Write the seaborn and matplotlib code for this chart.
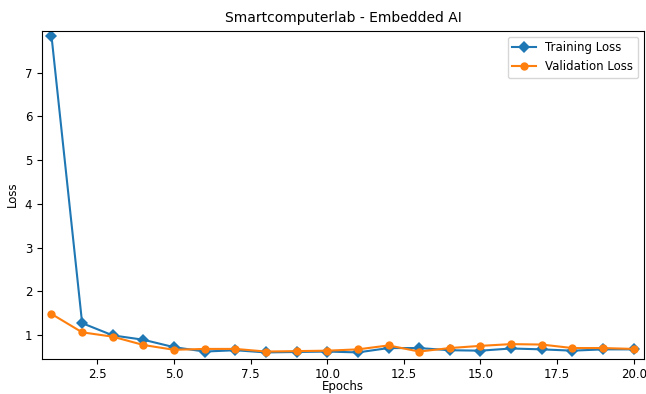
import matplotlib
matplotlib.use("Agg")
import matplotlib.pyplot as plt
import seaborn as sns
import pandas as pd

epochs = list(range(1, 21))
training_loss = [7.84, 1.27, 0.99, 0.89, 0.72, 0.62, 0.65, 0.60, 0.61, 0.62,
                 0.60, 0.70, 0.70, 0.65, 0.64, 0.69, 0.67, 0.64, 0.67, 0.67]
validation_loss = [1.48, 1.06, 0.96, 0.77, 0.66, 0.68, 0.68, 0.62, 0.63, 0.64,
                   0.67, 0.76, 0.62, 0.70, 0.75, 0.79, 0.78, 0.70, 0.70, 0.68]

df = pd.DataFrame({"Epochs": epochs, "Training Loss": training_loss,
                   "Validation Loss": validation_loss})

plt.rcParams['font.family'] = ['DejaVu Sans']
fig = plt.figure(figsize=(6.46, 3.94), dpi=100)
ax = fig.add_axes([0.065, 0.09, 0.932, 0.832])

sns.lineplot(data=df, x="Epochs", y="Training Loss", marker="D", markersize=6,
             markeredgewidth=0, color="#1f77b4", label="Training Loss", ax=ax)
sns.lineplot(data=df, x="Epochs", y="Validation Loss", marker="o", markersize=6,
             markeredgewidth=0, color="#ff7f0e", label="Validation Loss", ax=ax)

ax.set_xlim(0.69, 20.34)
ax.set_ylim(0.46, 7.96)
ax.set_xticks([2.5, 5.0, 7.5, 10.0, 12.5, 15.0, 17.5, 20.0])
ax.set_yticks([1, 2, 3, 4, 5, 6, 7])
ax.tick_params(labelsize=8.5)
ax.set_xlabel("Epochs", fontsize=8.5, labelpad=-1)
ax.set_ylabel("Loss", fontsize=8.5)
ax.set_title("Smartcomputerlab - Embedded AI", fontsize=10)
ax.legend(loc="upper right", fontsize=8.5)

fig.savefig("out.png", dpi=100)
